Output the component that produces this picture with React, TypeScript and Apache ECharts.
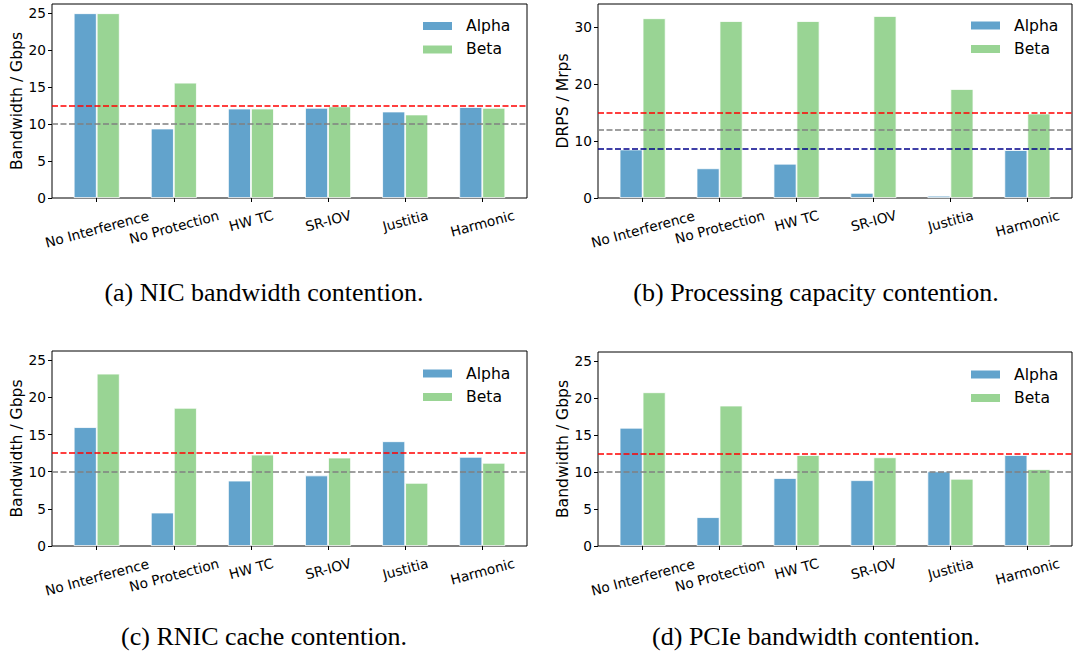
import React, { useEffect, useRef } from "react";
import * as echarts from "echarts";

// ---------------- data ----------------
const categories = ["No Interference", "No Protection", "HW TC", "SR-IOV", "Justitia", "Harmonic"];
const seriesNames = ["Alpha", "Beta"];

const nicAlpha = [25.0, 9.4, 12.1, 12.2, 11.7, 12.3];
const nicBeta = [25.0, 15.6, 12.1, 12.4, 11.3, 12.2];
const procAlpha = [8.5, 5.2, 6.0, 0.9, 0.4, 8.4];
const procBeta = [31.5, 31.0, 31.0, 31.9, 19.1, 14.8];
const cacheAlpha = [16.0, 4.5, 8.8, 9.5, 14.1, 12.0];
const cacheBeta = [23.2, 18.6, 12.3, 11.9, 8.5, 11.2];
const pcieAlpha = [16.0, 3.9, 9.2, 8.9, 10.1, 12.3];
const pcieBeta = [20.8, 19.0, 12.3, 12.0, 9.1, 10.4];

const bwTicks = [0, 5, 10, 15, 20, 25];
const drpsTicks = [0, 10, 20, 30];
const bwMax = 26.25;
const drpsMax = 34;

const bwRefLines = [12.5, 10];
const procRefLines = [15, 12, 8.6];

const captions = [
  "(a) NIC bandwidth contention.",
  "(b) Processing capacity contention.",
  "(c) RNIC cache contention.",
  "(d) PCIe bandwidth contention.",
];

// ---------------- style ----------------
const BLUE = "#62a3cc";
const GREEN = "#99d494";
const REF_COLORS_BW = ["#ff0000", "#808080"];
const REF_COLORS_PROC = ["#ff0000", "#808080", "#00008b"];
const SANS = "DejaVu Sans";
const TICK_FS = 13.7;
const NAME_FS = 15.6;
const ROT = 15;

function textWidth(s: string, font: string): number {
  const c = document.createElement("canvas").getContext("2d");
  if (!c) return s.length * 8;
  c.font = font;
  return c.measureText(s).width;
}

function buildRich() {
  const rad = (ROT * Math.PI) / 180;
  const rich: Record<string, any> = {};
  categories.forEach((c, i) => {
    const w = textWidth(c, `${TICK_FS}px "${SANS}"`);
    const h = TICK_FS;
    const p = (w / 2) * Math.tan(rad);
    const s = (p + h / 2) * Math.sin(rad);
    rich["c" + i] = {
      fontSize: TICK_FS,
      fontFamily: SANS,
      color: "#000",
      padding: [p, 2 * s, 0, 0],
    };
  });
  return rich;
}

function buildOption() {
  const rich = buildRich();
  const xPositions = categories.map((_, i) => i);
  const panels = [
    { alpha: nicAlpha, beta: nicBeta, ticks: bwTicks, max: bwMax, yName: "Bandwidth / Gbps", refs: bwRefLines, refColors: REF_COLORS_BW,
      grid: { left: 52, top: 4, width: 475, height: 194 }, legend: { left: 421, top: 18 }, cap: [264, 292] },
    { alpha: procAlpha, beta: procBeta, ticks: drpsTicks, max: drpsMax, yName: "DRPS / Mrps", refs: procRefLines, refColors: REF_COLORS_PROC,
      grid: { left: 598, top: 4, width: 474, height: 194 }, legend: { left: 969, top: 17.5 }, cap: [816, 292] },
    { alpha: cacheAlpha, beta: cacheBeta, ticks: bwTicks, max: bwMax, yName: "Bandwidth / Gbps", refs: bwRefLines, refColors: REF_COLORS_BW,
      grid: { left: 52, top: 351, width: 475, height: 195 }, legend: { left: 421, top: 365.5 }, cap: [264, 636] },
    { alpha: pcieAlpha, beta: pcieBeta, ticks: bwTicks, max: bwMax, yName: "Bandwidth / Gbps", refs: bwRefLines, refColors: REF_COLORS_BW,
      grid: { left: 598, top: 352, width: 474, height: 194 }, legend: { left: 969, top: 366.5 }, cap: [816, 636] },
  ];

  const grid: any[] = [];
  const xAxis: any[] = [];
  const yAxis: any[] = [];
  const legend: any[] = [];
  const series: any[] = [];
  const graphic: any[] = [];

  panels.forEach((pn, k) => {
    grid.push({ ...pn.grid, show: true, borderColor: "#000", borderWidth: 1, backgroundColor: "transparent", containLabel: false });
    xAxis.push({
      type: "value",
      gridIndex: k,
      min: -0.58,
      max: 5.58,
      axisLine: { show: false, onZero: false },
      splitLine: { show: false },
      axisTick: { show: true, customValues: xPositions, length: 4, lineStyle: { color: "#000", width: 1 } },
      axisLabel: {
        show: true,
        customValues: xPositions,
        rotate: ROT,
        align: "center",
        verticalAlign: "top",
        margin: 9,
        formatter: (v: number) => {
          const i = Math.round(v);
          return `{c${i}|${categories[i]}}`;
        },
        rich,
      },
    });
    yAxis.push({
      type: "value",
      gridIndex: k,
      min: 0,
      max: pn.max,
      name: pn.yName,
      nameLocation: "middle",
      nameRotate: 90,
      nameGap: 25,
      nameTextStyle: { fontSize: NAME_FS, fontFamily: SANS, color: "#000" },
      axisLine: { show: false, onZero: false },
      splitLine: { show: false },
      axisTick: { show: true, customValues: pn.ticks, length: 4, lineStyle: { color: "#000", width: 1 } },
      axisLabel: { show: true, customValues: pn.ticks, fontSize: TICK_FS, fontFamily: SANS, color: "#000", margin: 6 },
    });
    legend.push({
      data: seriesNames,
      orient: "vertical",
      left: pn.legend.left,
      top: pn.legend.top,
      padding: 0,
      itemWidth: 31,
      itemHeight: 10,
      itemGap: 7.4,
      icon: "rect",
      selectedMode: false,
      textStyle: { fontSize: NAME_FS, fontFamily: SANS, color: "#000", padding: [0, 0, 0, 8] },
    });
    [pn.alpha, pn.beta].forEach((vals, j) => {
      series.push({
        type: "bar",
        name: seriesNames[j],
        xAxisIndex: k,
        yAxisIndex: k,
        data: vals.map((v, i) => [xPositions[i], v]),
        barWidth: 23,
        barGap: "0%",
        itemStyle: { color: j === 0 ? BLUE : GREEN, borderColor: "#ffffff", borderWidth: 0.8 },
        markLine:
          j === 1
            ? {
                silent: true,
                symbol: "none",
                label: { show: false },
                data: pn.refs.map((v, r) => ({
                  yAxis: v,
                  lineStyle: { color: pn.refColors[r], type: [6, 2.5], width: 1.5 },
                })),
              }
            : undefined,
      });
    });
    graphic.push({
      type: "text",
      x: pn.cap[0],
      y: pn.cap[1],
      style: {
        text: captions[k],
        font: '26px "Liberation Serif"',
        fill: "#000",
        textAlign: "center",
        textVerticalAlign: "middle",
      },
    });
  });

  return { animation: false, backgroundColor: "#fff", grid, xAxis, yAxis, legend, series, graphic };
}

export default function App() {
  const ref = useRef<HTMLDivElement>(null);
  useEffect(() => {
    if (!ref.current) return;
    const chart = echarts.init(ref.current, null, { renderer: "svg" });
    chart.setOption(buildOption());
    return () => chart.dispose();
  }, []);
  return (
    <div
      ref={ref}
      style={{ position: "fixed", left: 0, top: 0, width: 1073, height: 656, background: "#fff" }}
    />
  );
}
